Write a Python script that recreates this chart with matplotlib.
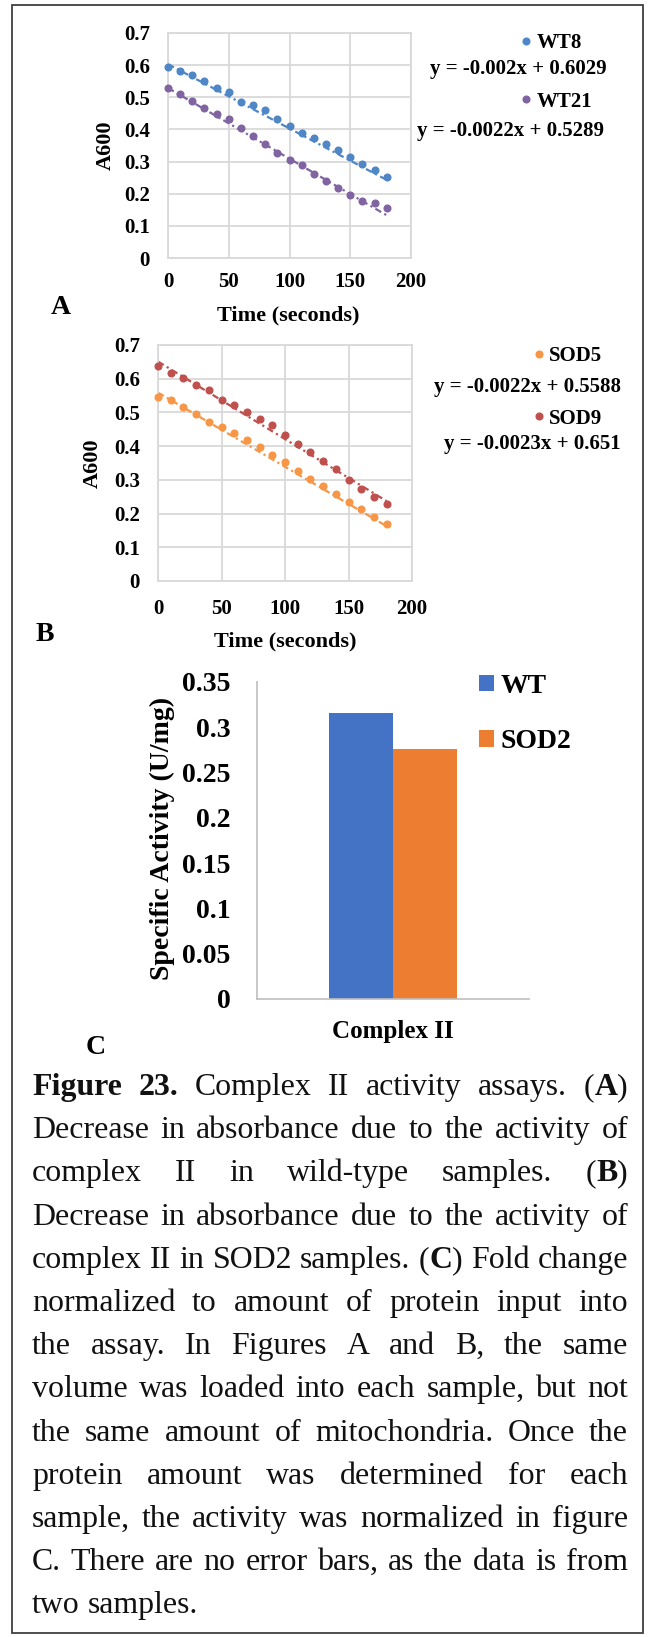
import numpy as np
import matplotlib
matplotlib.use('Agg')
import matplotlib.pyplot as plt
from matplotlib.patches import Rectangle
from matplotlib.ticker import FuncFormatter

plt.rcParams['font.family'] = ['Liberation Serif', 'DejaVu Serif']

# ---------------------------------------------------------------- DATA
time_s = [0, 10, 20, 30, 40, 50, 60, 70, 80, 90, 100, 110, 120, 130, 140, 150, 160, 170, 180]

wt8 = [0.595, 0.583, 0.568, 0.551, 0.528, 0.515, 0.486, 0.475, 0.459, 0.433,
       0.411, 0.388, 0.372, 0.355, 0.336, 0.315, 0.292, 0.275, 0.253]
wt21 = [0.529, 0.511, 0.490, 0.468, 0.449, 0.433, 0.406, 0.381, 0.355, 0.328,
        0.305, 0.288, 0.262, 0.240, 0.218, 0.197, 0.176, 0.171, 0.156]
sod5 = [0.546, 0.536, 0.515, 0.496, 0.471, 0.457, 0.440, 0.418, 0.396, 0.375,
        0.352, 0.327, 0.304, 0.283, 0.257, 0.235, 0.213, 0.190, 0.169]
sod9 = [0.639, 0.616, 0.603, 0.581, 0.567, 0.537, 0.523, 0.502, 0.480, 0.462,
        0.432, 0.405, 0.383, 0.357, 0.332, 0.300, 0.274, 0.250, 0.227]

# trendline (slope, intercept) as printed on the chart
wt8_fit = (-0.002, 0.6029)
wt21_fit = (-0.0022, 0.5289)
sod5_fit = (-0.0022, 0.5588)
sod9_fit = (-0.0023, 0.651)

bar_groups = ['WT', 'SOD2']
bar_values = [0.316, 0.276]
bar_category = 'Complex II'

caption = [
    "**Figure 23.** Complex II activity assays. (**A**)",
    "Decrease in absorbance due to the activity of",
    "complex II in wild-type samples. (**B**)",
    "Decrease in absorbance due to the activity of",
    "complex II in SOD2 samples. (**C**) Fold change",
    "normalized to amount of protein input into",
    "the assay. In Figures A and B, the same",
    "volume was loaded into each sample, but not",
    "the same amount of mitochondria. Once the",
    "protein amount was determined for each",
    "sample, the activity was normalized in figure",
    "C. There are no error bars, as the data is from",
    "two samples.",
]

W, H = 648, 1637


# ---------------------------------------------------------------- FUNCTIONS
def px_axes(x0, y0, x1, y1):
    return fig.add_axes([x0 / W, 1 - y1 / H, (x1 - x0) / W, (y1 - y0) / H])


def fx(x):
    return x / W


def fy(y):
    return 1 - y / H


def scatter_panel(ax, series, fits, colors, labels, xpad):
    for y, (m, b), c, lab in zip(series, fits, colors, labels):
        ax.plot(time_s, y, 'o', color=c, ms=4.8, label=lab, zorder=3, clip_on=False)
        xx = np.array([time_s[0], time_s[-1]])
        ax.plot(xx, m * xx + b, color=c, lw=1.6, ls=(0, (3, 1.6, 1, 1.6)), zorder=2)
    ax.set_xlim(0, 200)
    ax.set_ylim(0, 0.7)
    ax.set_xticks([0, 50, 100, 150, 200])
    ax.set_yticks(np.arange(0, 0.71, 0.1))
    ax.yaxis.set_major_formatter(FuncFormatter(lambda v, p: '0' if abs(v) < 1e-9 else f'{v:.1f}'))
    ax.grid(True, color='#d9d9d9', lw=1.3)
    ax.set_axisbelow(True)
    for s in ax.spines.values():
        s.set_color('#d9d9d9')
        s.set_linewidth(1.3)
    ax.tick_params(axis='both', length=0, labelsize=15)
    ax.tick_params(axis='y', pad=13)
    ax.tick_params(axis='x', pad=xpad)
    for t in ax.get_xticklabels() + ax.get_yticklabels():
        t.set_fontweight('bold')
    ax.set_xlabel('Time (seconds)', fontsize=16, fontweight='bold')
    ax.set_ylabel('A600', fontsize=16, fontweight='bold', va='center')


# ---------------------------------------------------------------- MAIN
fig = plt.figure(figsize=(W / 100, H / 100), dpi=100)

# panel A
axA = px_axes(168, 33, 411, 258)
scatter_panel(axA, [wt8, wt21], [wt8_fit, wt21_fit], ['#4f86c6', '#8064a2'], ['WT8', 'WT21'], 10)
axA.xaxis.set_label_coords(0.494, -0.209)
axA.yaxis.set_label_coords(-0.255, 0.5)
axA.legend(loc='center left', bbox_to_anchor=(fx(520), fy(72.5)), bbox_transform=fig.transFigure,
           frameon=False, prop={'size': 15, 'weight': 'bold'}, handlelength=0.56,
           handletextpad=0.22, labelspacing=1.84, borderpad=0, borderaxespad=0)
for (m, b), xr, yc in [(wt8_fit, 607, 69), (wt21_fit, 604, 131)]:
    fig.text(fx(xr), fy(yc), f'y = {m}x + {b}', ha='right', va='center', fontsize=15, fontweight='bold')
fig.text(fx(61), fy(308), 'A', ha='center', va='center', fontsize=20, fontweight='bold')

# panel B
axB = px_axes(158, 345, 412, 581)
scatter_panel(axB, [sod5, sod9], [sod5_fit, sod9_fit], ['#f79646', '#c0504d'], ['SOD5', 'SOD9'], 13)
axB.xaxis.set_label_coords(0.5, -0.216)
axB.yaxis.set_label_coords(-0.256, 0.5)
axB.legend(loc='center left', bbox_to_anchor=(fx(533), fy(387.5)), bbox_transform=fig.transFigure,
           frameon=False, prop={'size': 15, 'weight': 'bold'}, handlelength=0.56,
           handletextpad=0.22, labelspacing=2.03, borderpad=0, borderaxespad=0)
for (m, b), xr, yc in [(sod5_fit, 621, 387), (sod9_fit, 621, 444)]:
    fig.text(fx(xr), fy(yc), f'y = {m}x + {b}', ha='right', va='center', fontsize=15, fontweight='bold')
fig.text(fx(45), fy(635), 'B', ha='center', va='center', fontsize=20, fontweight='bold')

# panel C
axC = px_axes(257, 682, 529, 999)
bw = 0.236
offsets = (np.arange(len(bar_groups)) - (len(bar_groups) - 1) / 2) * bw
for off, val, lab, c in zip(offsets, bar_values, bar_groups, ['#4472c4', '#ed7d31']):
    axC.bar([off], [val], width=bw, color=c, label=lab)
axC.set_xlim(-0.5, 0.5)
axC.set_ylim(0, 0.35)
axC.set_yticks(np.arange(0, 0.351, 0.05))
axC.yaxis.set_major_formatter(FuncFormatter(lambda v, p: f'{round(v, 2):g}'))
axC.set_xticks([0])
axC.set_xticklabels([bar_category])
for s in ['top', 'right']:
    axC.spines[s].set_visible(False)
for s in ['left', 'bottom']:
    axC.spines[s].set_color('#bfbfbf')
    axC.spines[s].set_linewidth(1.2)
axC.tick_params(axis='both', length=0)
axC.tick_params(axis='y', labelsize=20, pad=19)
axC.tick_params(axis='x', labelsize=18, pad=15)
for t in axC.get_xticklabels() + axC.get_yticklabels():
    t.set_fontweight('bold')
axC.set_ylabel('Specific Activity (U/mg)', fontsize=20, fontweight='bold', va='center')
axC.yaxis.set_label_coords(-0.349, 0.505)
axC.legend(loc='center left', bbox_to_anchor=(fx(479), fy(714)), bbox_transform=fig.transFigure,
           frameon=False, prop={'size': 20, 'weight': 'bold'}, handlelength=0.54, handleheight=0.54,
           handletextpad=0.25, labelspacing=1.09, borderpad=0, borderaxespad=0)
fig.text(fx(96), fy(1047), 'C', ha='center', va='center', fontsize=20, fontweight='bold')

# caption, justified between x_left and x_right
fig.canvas.draw()
renderer = fig.canvas.get_renderer()


def seg_width(s, bold, size):
    t = fig.text(0, 0, s, fontsize=size, fontweight='bold' if bold else 'normal')
    w = t.get_window_extent(renderer).width
    t.remove()
    return w


def parse_line(line, bold):
    words = []
    for w in line.split(' '):
        segs = []
        for i, p in enumerate(w.split('**')):
            if i > 0:
                bold = not bold
            if p:
                segs.append((p, bold))
        words.append(segs)
    return words, bold


parsed = []
state = False
for line in caption:
    words, state = parse_line(line, state)
    parsed.append(words)

x_left, x_right = 32, 628
ref_size = 20
space_ref = seg_width('a b', False, ref_size) - seg_width('ab', False, ref_size)
natural = []
for words in parsed[:-1]:
    tot = sum(seg_width(s, b, ref_size) for w in words for s, b in w)
    natural.append(tot + space_ref * (len(words) - 1))
cap_size = ref_size * (x_right - x_left) / max(natural)

space_w = seg_width('a b', False, cap_size) - seg_width('ab', False, cap_size)
base0, step = 1095, 43.2
for i, words in enumerate(parsed):
    widths = [[seg_width(s, b, cap_size) for s, b in w] for w in words]
    total = sum(sum(ws) for ws in widths)
    if i < len(parsed) - 1 and len(words) > 1:
        gap = (x_right - x_left - total) / (len(words) - 1)
    else:
        gap = space_w
    x = x_left
    yb = base0 + i * step
    for w, ws in zip(words, widths):
        for (s, b), sw in zip(w, ws):
            fig.text(fx(x), fy(yb), s, fontsize=cap_size, fontweight='bold' if b else 'normal',
                     ha='left', va='baseline', color='#111111')
            x += sw
        x += gap

# outer frame
fig.add_artist(Rectangle((fx(12), fy(1633)), (643 - 12) / W, (1633 - 5) / H,
                         transform=fig.transFigure, fill=False, ec='#404040', lw=1.3))

fig.savefig('out.png', dpi=100)
